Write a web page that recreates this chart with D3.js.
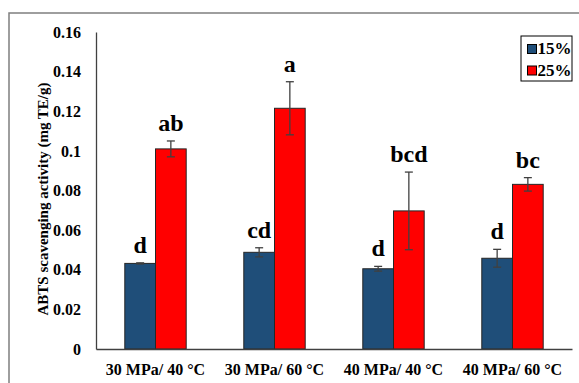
<!DOCTYPE html>
<html><head><meta charset="utf-8">
<script src="https://cdn.jsdelivr.net/npm/d3@7/dist/d3.min.js"></script>
<style>body{margin:0;background:#fff}svg{display:block}text{font-family:"Liberation Serif","Times New Roman",Times,serif;font-weight:bold;fill:#000}</style>
</head><body>
<script>
const categories = ["30 MPa/ 40 °C", "30 MPa/ 60 °C", "40 MPa/ 40 °C", "40 MPa/ 60 °C"];
const seriesNames = ["15%", "25%"];
const values15 = [0.0432, 0.0488, 0.0405, 0.0458];
const values25 = [0.101, 0.1215, 0.0697, 0.0831];
const err15 = [0.0003, 0.0023, 0.0012, 0.0045];
const err25 = [0.0040, 0.0134, 0.0196, 0.0034];
const letters15 = ["d", "cd", "d", "d"];
const letters25 = ["ab", "a", "bcd", "bc"];
const yTicks = [0, 0.02, 0.04, 0.06, 0.08, 0.1, 0.12, 0.14, 0.16];
const colors = ["#1F4E79", "#FF0000"];

const W = 579, H = 383;
const FF = '"Liberation Serif","Times New Roman",Times,serif';
const svg = d3.select("body").append("svg").attr("width", W).attr("height", H);
// outer frame
svg.append("rect").attr("x", 9).attr("y", 13).attr("width", 580).attr("height", 400)
  .attr("fill", "none").attr("stroke", "#7f7f7f").attr("stroke-width", 1.5);

const x0 = 96, x1 = 572, yB = 349, yT = 32;
const x = d3.scaleBand().domain(categories).range([x0, x1]).paddingInner(0).paddingOuter(0);
const y = d3.scaleLinear().domain([0, 0.16]).range([yB, yT]);
const barW = x.bandwidth() * 0.258;

const series = [values15, values25], errs = [err15, err25], letters = [letters15, letters25];
series.forEach((vals, s) => {
  const g = svg.append("g");
  vals.forEach((v, i) => {
    const cx = x(categories[i]) + x.bandwidth() / 2;
    const bx = cx + (s === 0 ? -barW : 0);
    g.append("rect").attr("x", bx).attr("y", y(v)).attr("width", barW).attr("height", y(0) - y(v))
      .attr("fill", colors[s]).attr("stroke", "#262626").attr("stroke-width", 1);
    const ex = bx + barW / 2, e = errs[s][i];
    g.append("line").attr("x1", ex).attr("x2", ex).attr("y1", y(v + e)).attr("y2", y(v - e))
      .attr("stroke", "#404040").attr("stroke-width", 1.3);
    [v + e, v - e].forEach(t => g.append("line").attr("x1", ex - 4).attr("x2", ex + 4)
      .attr("y1", y(t)).attr("y2", y(t)).attr("stroke", "#404040").attr("stroke-width", 1.3));
    g.append("text").attr("x", ex).attr("y", y(v + e) - 10).attr("text-anchor", "middle")
      .style("font-size", "24px").text(letters[s][i]);
  });
});

// axes
const yAxis = d3.axisLeft(y).tickValues(yTicks).tickSize(0).tickPadding(15)
  .tickFormat(d => d === 0 ? "0" : String(+d.toFixed(2)));
const ya = svg.append("g").attr("transform", `translate(${x0},0)`).call(yAxis);
ya.select(".domain").attr("stroke", "#404040").attr("stroke-width", 1.3);
ya.selectAll("text").style("font-size", "16px").style("font-family", FF).style("font-weight", "bold").attr("fill", "#000");

const xAxis = d3.axisBottom(x).tickSize(0).tickPadding(15);
const xa = svg.append("g").attr("transform", `translate(0,${yB})`).call(xAxis);
xa.select(".domain").attr("stroke", "#404040").attr("stroke-width", 1.3);
xa.selectAll("text").style("font-size", "16px").style("font-family", FF).style("font-weight", "bold").attr("fill", "#000");

// y title
svg.append("text").attr("transform", `translate(48,199) rotate(-90)`)
  .attr("text-anchor", "middle").style("font-size", "15px").text("ABTS scavenging activity (mg TE/g)");

// legend
const lg = svg.append("g");
lg.append("rect").attr("x", 521).attr("y", 36).attr("width", 51).attr("height", 45)
  .attr("fill", "#fff").attr("stroke", "#000").attr("stroke-width", 1);
seriesNames.forEach((n, i) => {
  lg.append("rect").attr("x", 527.5).attr("y", 44.5 + i * 21.5).attr("width", 9).attr("height", 9)
    .attr("fill", colors[i]).attr("stroke", "#000").attr("stroke-width", 1);
  lg.append("text").attr("x", 537.5).attr("y", 54 + i * 21.5).style("font-size", "17px").text(n);
});
</script>
</body></html>
